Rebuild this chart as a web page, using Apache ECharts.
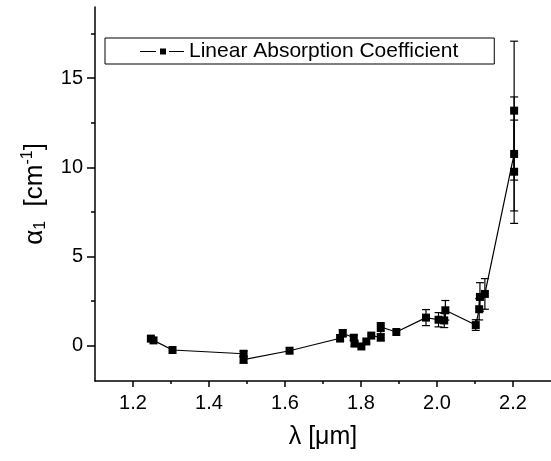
<!DOCTYPE html>
<html>
<head>
<meta charset="utf-8">
<script src="https://cdn.jsdelivr.net/npm/echarts@6/dist/echarts.min.js"></script>
<style>html,body{margin:0;padding:0;background:#fff}#c{width:551px;height:461px}</style>
</head>
<body>
<div id="c"></div>
<script>
// wavelength (µm)
const wavelength = [1.247, 1.254, 1.304, 1.491, 1.491, 1.612, 1.745, 1.752, 1.781, 1.783, 1.801, 1.814, 1.827, 1.852, 1.852, 1.893, 1.971, 2.004, 2.019, 2.022, 2.102, 2.111, 2.113, 2.126, 2.203, 2.203, 2.203];
// linear absorption coefficient (cm^-1)
const alpha = [0.38, 0.28, -0.26, -0.47, -0.8, -0.3, 0.4, 0.68, 0.43, 0.1, -0.06, 0.22, 0.55, 0.45, 1.03, 0.75, 1.56, 1.44, 1.40, 1.97, 1.14, 2.03, 2.72, 2.89, 10.75, 13.18, 9.75];
// symmetric error
const alphaErr = [0, 0, 0, 0.15, 0.2, 0, 0.2, 0.2, 0.15, 0.15, 0, 0, 0, 0.2, 0.25, 0, 0.45, 0.4, 0.4, 0.55, 0.3, 0.6, 0.8, 0.86, 3.2, 3.9, 2.9];
const xTicks = [1.2, 1.4, 1.6, 1.8, 2.0, 2.2];
const xMinorTicks = [1.3, 1.5, 1.7, 1.9, 2.1];
const yTicks = [0, 5, 10, 15];
const yMinorTicks = [2.5, 7.5, 12.5, 17.5];
const seriesName = 'Linear Absorption Coefficient';

const FONT = 'Liberation Sans, Arial, sans-serif';
const lineData = wavelength.map((x, i) => [x, alpha[i]]);
const errData = wavelength.map((x, i) => [x, alpha[i], alphaErr[i]]).filter(d => d[2] > 0);

const chart = echarts.init(document.getElementById('c'), null, {renderer: 'canvas'});
const axisLineStyle = {color: '#000', width: 1.5};
chart.setOption({
  animation: false,
  backgroundColor: '#fff',
  grid: {left: 95, top: 7, right: 0, bottom: 80},
  legend: {
    data: [seriesName],
    left: 105, top: 38,
    padding: [3, 36, 2, 35],
    borderColor: '#000', borderWidth: 1,
    itemWidth: 44, itemHeight: 6,
    icon: 'path://M0,2.5 h16 v1 h-16 Z M20,0 h6 v6 h-6 Z M29,2.5 h15 v1 h-15 Z',
    textStyle: {fontFamily: FONT, fontSize: 21, color: '#000', lineHeight: 20}
  },
  xAxis: [{
    type: 'value', min: 1.1, max: 2.3,
    name: 'λ [μm]', nameLocation: 'middle', nameGap: 44,
    nameTextStyle: {fontFamily: FONT, fontSize: 25, color: '#000'},
    axisLine: {onZero: false, lineStyle: axisLineStyle},
    axisTick: {customValues: xTicks, length: 6, lineStyle: {color: '#000', width: 1.5}},
    axisLabel: {customValues: xTicks, formatter: v => v.toFixed(1), fontFamily: FONT, fontSize: 20, color: '#000', margin: 12},
    splitLine: {show: false}
  }, {
    type: 'value', min: 1.1, max: 2.3, position: 'bottom',
    axisLine: {show: false, onZero: false},
    axisTick: {customValues: xMinorTicks, length: 3, lineStyle: {color: '#000', width: 1.5}},
    axisLabel: {show: false},
    splitLine: {show: false}
  }],
  yAxis: [{
    type: 'value', min: -2, max: 19,
    name: '{a|α}{s|1}  {a|[cm}{p|-1}{a|]}',
    nameLocation: 'middle', nameRotate: 90, nameGap: 46,
    nameTextStyle: {
      fontFamily: FONT, fontSize: 26, color: '#000',
      rich: {
        a: {fontFamily: FONT, fontSize: 26, color: '#000'},
        s: {fontFamily: FONT, fontSize: 16, color: '#000', verticalAlign: 'bottom', padding: [11, 0, 0, 0]},
        p: {fontFamily: FONT, fontSize: 16, color: '#000', verticalAlign: 'top', padding: [0, 0, 13, 0]}
      }
    },
    axisLine: {onZero: false, lineStyle: axisLineStyle},
    axisTick: {customValues: yTicks, length: 8, lineStyle: {color: '#000', width: 1.5}},
    axisLabel: {customValues: yTicks, fontFamily: FONT, fontSize: 20, color: '#000', margin: 12},
    splitLine: {show: false}
  }, {
    type: 'value', min: -2, max: 19, position: 'left',
    axisLine: {show: false, onZero: false},
    axisTick: {customValues: yMinorTicks, length: 4, lineStyle: {color: '#000', width: 1.5}},
    axisLabel: {show: false},
    splitLine: {show: false}
  }],
  series: [{
    name: seriesName,
    type: 'line',
    data: lineData,
    symbol: 'rect', symbolSize: 8,
    itemStyle: {color: '#000'},
    lineStyle: {color: '#000', width: 1.2},
    z: 3
  }, {
    type: 'custom',
    data: errData,
    encode: {x: 0, y: 1},
    z: 2,
    renderItem: function (params, api) {
      const x = api.value(0), y = api.value(1), e = api.value(2);
      const t = api.coord([x, y + e]);
      const b = api.coord([x, y - e]);
      const hw = 4;
      const st = {stroke: '#000', lineWidth: 1.2};
      return {
        type: 'group',
        children: [
          {type: 'line', shape: {x1: t[0], y1: t[1], x2: b[0], y2: b[1]}, style: st},
          {type: 'line', shape: {x1: t[0] - hw, y1: t[1], x2: t[0] + hw, y2: t[1]}, style: st},
          {type: 'line', shape: {x1: b[0] - hw, y1: b[1], x2: b[0] + hw, y2: b[1]}, style: st}
        ]
      };
    }
  }]
});
</script>
</body>
</html>
